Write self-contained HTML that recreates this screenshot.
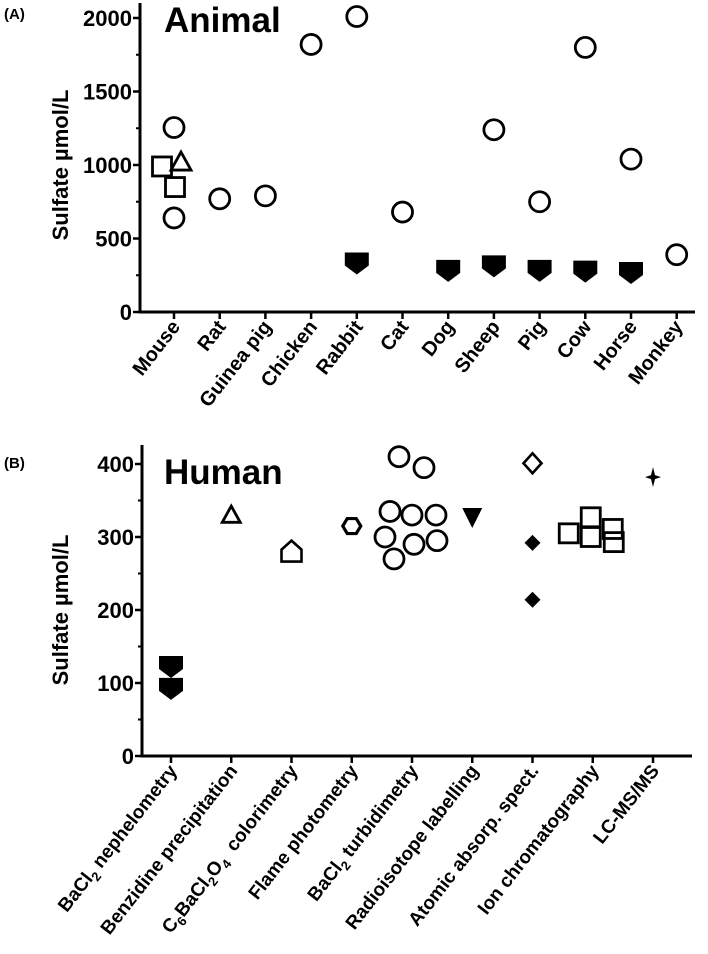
<!DOCTYPE html>
<html><head><meta charset="utf-8">
<style>
html,body{margin:0;padding:0;background:#fff;}
svg{display:block;font-family:"Liberation Sans","DejaVu Sans",sans-serif;font-weight:bold;}
</style></head>
<body>
<svg id="chart" width="708" height="954" viewBox="0 0 708 954" xmlns="http://www.w3.org/2000/svg">
<text x="4" y="19" font-size="15">(A)</text>
<text x="164" y="32" font-size="35">Animal</text>
<text x="4" y="468" font-size="15">(B)</text>
<text x="164" y="484" font-size="35">Human</text>
<text transform="translate(68,165) rotate(-90)" text-anchor="middle" font-size="22">Sulfate µmol/L</text>
<text transform="translate(68,610) rotate(-90)" text-anchor="middle" font-size="22">Sulfate µmol/L</text>
<g id="pa"></g>
<g id="pb"></g>
</svg>
<script>
// Panel A data
var animalCats = ["Mouse","Rat","Guinea pig","Chicken","Rabbit","Cat","Dog","Sheep","Pig","Cow","Horse","Monkey"];
var animalCircles = [[1255,640],[770],[790],[1820],[2010],[680],[],[1240],[750],[1800],[1040],[390]];
var animalFilled = [[],[],[],[],[330],[],[280],[310],[280],[275],[265],[]];
var mouseSquares = [990,850];
var mouseTriangle = [1020];
var animalTicks = [0,500,1000,1500,2000];
// Panel B data
var humanCats = ["BaCl2 nephelometry","Benzidine precipitation","C6BaCl2O4 colorimetry","Flame photometry","BaCl2 turbidimetry","Radioisotope labelling","Atomic absorp. spect.","Ion chromatography","LC-MS/MS"];
var nephValues = [122,92];
var benzidineValues = [330];
var colorimetryValues = [280];
var flameValues = [315];
var turbidValues = [410,395,335,330,330,300,290,295,270];
var radioValues = [326];
var atomicOpen = [401];
var atomicFilled = [292,214];
var ionValues = [305,327,300,311,293];
var lcmsValues = [382];
var humanTicks = [0,100,200,300,400];

var NS="http://www.w3.org/2000/svg";
function mk(parent,tag,attrs){var e=document.createElementNS(NS,tag);for(var k in attrs)e.setAttribute(k,attrs[k]);parent.appendChild(e);return e;}

var ax={x0:140,y0:312,x1:695,ymax:2000,h:294,first:174,step:45.7};
function yA(v){return ax.y0-v/ax.ymax*ax.h;}
function xA(i){return ax.first+i*ax.step;}
var bx={x0:142,y0:756,x1:692,ymax:400,h:292,first:171,step:60.25};
function yB(v){return bx.y0-v/bx.ymax*bx.h;}
function xB(i){return bx.first+i*bx.step;}

function circle(g,x,y,name){var e=mk(g,"circle",{cx:x,cy:y,r:10,fill:"none",stroke:"#000","stroke-width":2.8});

}
function downPent(g,x,y,name){var e=mk(g,"polygon",{points:(x-12)+","+(y-11)+" "+(x+12)+","+(y-11)+" "+(x+12)+","+(y+2)+" "+x+","+(y+11)+" "+(x-12)+","+(y+2),fill:"#000"});

}
function square(g,x,y,name){var e=mk(g,"rect",{x:x-9.5,y:y-9.5,width:19,height:19,fill:"none",stroke:"#000","stroke-width":2.8});

}
function triUp(g,x,y,name,s){s=s||1;var e=mk(g,"polygon",{points:x+","+(y-10*s)+" "+(x+10*s)+","+(y+8*s)+" "+(x-10*s)+","+(y+8*s),fill:"none",stroke:"#000","stroke-width":2.8});

}

function sub(d){return '<tspan dy="5" font-size="13">'+d+'</tspan><tspan dy="-5">';}
function axes(g,x0,y0,x1,top,ticks,yf,n,xf,cats,prefix,fs){
  var a=mk(g,"line",{x1:x0,y1:top,x2:x0,y2:y0,stroke:"#000","stroke-width":3});
  
  
  var b=mk(g,"line",{x1:x0-1.5,y1:y0,x2:x1,y2:y0,stroke:"#000","stroke-width":3});
  
  
  for(var i=0;i<ticks.length;i++){
    var y=yf(ticks[i]);
    mk(g,"line",{x1:x0-7,y1:y,x2:x0,y2:y,stroke:"#000","stroke-width":2.5});
    if(i<ticks.length-1){var ym=yf((ticks[i]+ticks[i+1])/2);mk(g,"line",{x1:x0-4,y1:ym,x2:x0,y2:ym,stroke:"#000","stroke-width":2});}
    var t=mk(g,"text",{x:x0-8,y:y+8,"text-anchor":"end","font-size":22});
    t.textContent=ticks[i];
    
    
  }
  for(var j=0;j<n;j++){
    var x=xf(j);
    mk(g,"line",{x1:x,y1:y0,x2:x,y2:y0+7,stroke:"#000","stroke-width":2.5});
    var t2=mk(g,"text",{transform:"translate("+(x+7)+","+(y0+15)+") rotate(-52)","text-anchor":"end","font-size":fs});
    
    
    var lab=cats[j];
    if(lab.indexOf("C6BaCl2O4")===0){
      t2.innerHTML='<tspan>C</tspan>'+sub('6')+'BaCl</tspan>'+sub('2')+'O</tspan>'+sub('4')+'\u00a0'+lab.slice(9)+'</tspan>';
    } else if(lab.indexOf("BaCl2")===0){
      t2.innerHTML='<tspan>BaCl</tspan>'+sub('2')+lab.slice(5)+'</tspan>';
    } else t2.textContent=lab;
  }
}

var pa=document.getElementById("pa");
axes(pa,ax.x0,ax.y0,ax.x1,3,animalTicks,yA,animalCats.length,xA,animalCats,"animal",20);
for(var i=0;i<animalCats.length;i++){
  animalCircles[i].forEach(function(v){circle(pa,xA(i),yA(v),"circle-"+animalCats[i].toLowerCase().replace(' ','-'));});
  animalFilled[i].forEach(function(v){downPent(pa,xA(i),yA(v),"filled-marker-"+animalCats[i].toLowerCase());});
}
square(pa,xA(0)-12,yA(mouseSquares[0]),"square-mouse");
square(pa,xA(0)+1,yA(mouseSquares[1]),"square-mouse");
triUp(pa,xA(0)+7,yA(mouseTriangle[0]),"triangle-mouse");

var pb=document.getElementById("pb");
axes(pb,bx.x0,bx.y0,bx.x1,445,humanTicks,yB,humanCats.length,xB,humanCats,"human",19);
nephValues.forEach(function(v){downPent(pb,xB(0),yB(v),"filled-marker-nephelometry");});
benzidineValues.forEach(function(v){triUp(pb,xB(1),yB(v),"triangle-benzidine",0.9);});
colorimetryValues.forEach(function(v){var x=xB(2),y=yB(v);var e=mk(pb,"polygon",{points:x+","+(y-11)+" "+(x+10)+","+(y-2)+" "+(x+10)+","+(y+10)+" "+(x-10)+","+(y+10)+" "+(x-10)+","+(y-2),fill:"none",stroke:"#000","stroke-width":2.6});

});
flameValues.forEach(function(v){var x=xB(3),y=yB(v);var e=mk(pb,"polygon",{points:(x-9)+","+y+" "+(x-4.5)+","+(y-7.5)+" "+(x+4.5)+","+(y-7.5)+" "+(x+9)+","+y+" "+(x+4.5)+","+(y+7.5)+" "+(x-4.5)+","+(y+7.5),fill:"none",stroke:"#000","stroke-width":3.2});

});
var turbOff=[-13,12,-22,0,24,-27,2,25,-18];
turbidValues.forEach(function(v,k){circle(pb,xB(4)+turbOff[k],yB(v),"circle-turbidimetry");});
radioValues.forEach(function(v){var x=xB(5),y=yB(v);var e=mk(pb,"polygon",{points:(x-10)+","+(y-10)+" "+(x+10)+","+(y-10)+" "+x+","+(y+10),fill:"#000"});

});
atomicOpen.forEach(function(v){var x=xB(6),y=yB(v);var e=mk(pb,"polygon",{points:x+","+(y-10)+" "+(x+9)+","+y+" "+x+","+(y+10)+" "+(x-9)+","+y,fill:"none",stroke:"#000","stroke-width":2.6});

});
atomicFilled.forEach(function(v){var x=xB(6),y=yB(v);var e=mk(pb,"polygon",{points:x+","+(y-8)+" "+(x+8)+","+y+" "+x+","+(y+8)+" "+(x-8)+","+y,fill:"#000"});

});
var ionOff=[-24,-2,-2,20,21];
ionValues.forEach(function(v,k){square(pb,xB(7)+ionOff[k],yB(v),"square-ion-chromatography");});
lcmsValues.forEach(function(v){var x=xB(8),y=yB(v);var e=mk(pb,"polygon",{points:x+","+(y-10)+" "+(x+2)+","+(y-2)+" "+(x+8)+","+y+" "+(x+2)+","+(y+2)+" "+x+","+(y+10)+" "+(x-2)+","+(y+2)+" "+(x-8)+","+y+" "+(x-2)+","+(y-2),fill:"#000"});

});
</script>
</body></html>
